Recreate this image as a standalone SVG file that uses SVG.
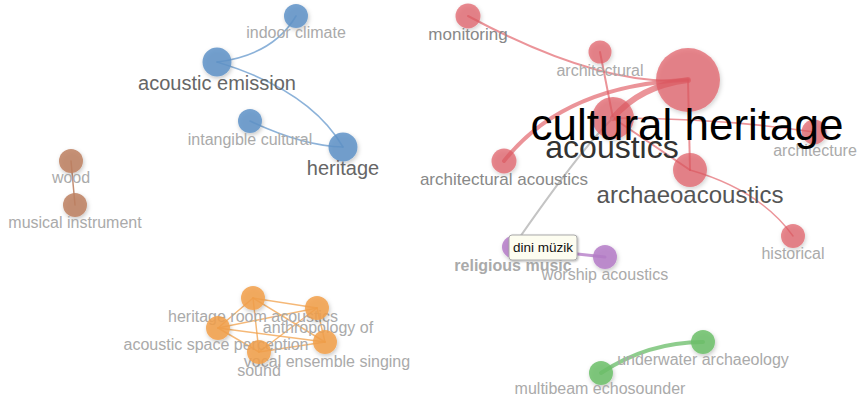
<svg xmlns="http://www.w3.org/2000/svg" width="863" height="404" viewBox="0 0 863 404">
<defs>
<filter id="sh" x="-50%" y="-50%" width="200%" height="200%">
<feDropShadow dx="1" dy="2" stdDeviation="2" flood-color="#000" flood-opacity="0.25"/>
</filter>
<filter id="tsh" x="-20%" y="-30%" width="140%" height="160%">
<feDropShadow dx="1" dy="1" stdDeviation="1.2" flood-color="#000" flood-opacity="0.3"/>
</filter>
</defs>
<style>
text{font-family:"Liberation Sans",Arial,sans-serif;text-anchor:middle}
.e{fill:none;stroke-linecap:round}
.eb{stroke:#6f9fd0;stroke-opacity:.8;stroke-width:1.6}
.er{stroke:#e05a62;stroke-opacity:.65}
.eo{stroke:#f2a04a;stroke-opacity:.75;stroke-width:1.5}
.eg{stroke:#72c070;stroke-opacity:.8;stroke-width:4}
.ebr{stroke:#bb7a5a;stroke-opacity:.85;stroke-width:1.5}
.ep{stroke:#b57dc8;stroke-opacity:.8;stroke-width:3}
.egr{stroke:#c4c4c4;stroke-width:2}
.n{filter:url(#sh)}
.b{fill:#5f93c8;fill-opacity:.85}
.r{fill:#e05a62;fill-opacity:.7}
.p{fill:#b57dc8;fill-opacity:.85}
.o{fill:#f2a04a;fill-opacity:.85}
.g{fill:#6cbf6a;fill-opacity:.85}
.br{fill:#bd8060;fill-opacity:.85}
.s{font-size:16px;fill:#aaa}
.m{font-size:17px;fill:#888}
</style>
<g id="connectors">
<path class="e eb" d="M217,62 Q273,55 296,16"/>
<path class="e eb" d="M217,62 Q310,90 343,147"/>
<path class="e eb" d="M250,121 Q303,146 343,147"/>
<path class="e ebr" d="M71,161 L75,205"/>
<path class="e er" stroke-width="2" d="M468,16 Q602,88 688,80"/>
<path class="e er" stroke-width="2" d="M600,52 L613,118"/>
<path class="e er" stroke-width="4" d="M504,161 Q564,85 688,80"/>
<path class="e er" stroke-width="6" d="M613,118 Q640,86 688,80"/>
<path class="e er" stroke-width="2" d="M688,80 L690,170"/>
<path class="e er" stroke-width="2" d="M613,118 L690,170"/>
<path class="e er" stroke-width="1.6" d="M613,118 Q720,118 814,132"/>
<path class="e er" stroke-width="1.5" d="M690,170 Q760,190 793,236"/>
<path class="e egr" d="M513,247 Q580,150 613,118"/>
<path class="e ep" d="M513,247 L605,257"/>
<path class="e eo" d="M253,298 L317,308"/>
<path class="e eo" d="M253,298 L218,328"/>
<path class="e eo" d="M253,298 L325,342"/>
<path class="e eo" d="M253,298 L259,352"/>
<path class="e eo" d="M317,308 L218,328"/>
<path class="e eo" d="M317,308 L325,342"/>
<path class="e eo" d="M317,308 L259,352"/>
<path class="e eo" d="M218,328 L325,342"/>
<path class="e eo" d="M218,328 L259,352"/>
<path class="e eo" d="M259,352 L325,342"/>
<path class="e eg" d="M601,373 Q648,342 703,342"/>
</g>
<g id="n-indoor-climate"><circle class="n b" cx="296" cy="16" r="12"/><text class="s" x="296" y="38">indoor climate</text></g>
<g id="n-acoustic-emission"><circle class="n b" cx="217" cy="62" r="14.5"/><text x="217" y="90" font-size="20" fill="#666">acoustic emission</text></g>
<g id="n-intangible-cultural"><circle class="n b" cx="250" cy="121" r="12"/><text class="s" x="250" y="145">intangible cultural</text></g>
<g id="n-heritage"><circle class="n b" cx="343" cy="147" r="14.5"/><text x="343" y="175" font-size="20" fill="#666">heritage</text></g>
<g id="n-wood"><circle class="n br" cx="71" cy="161" r="12"/><text class="s" x="71" y="183">wood</text></g>
<g id="n-musical-instrument"><circle class="n br" cx="75" cy="205" r="12"/><text class="s" x="75" y="228">musical instrument</text></g>
<g id="n-monitoring"><circle class="n r" cx="468" cy="16" r="12.5"/><text class="m" x="468" y="40" fill="#888">monitoring</text></g>
<g id="n-architectural"><circle class="n r" cx="600" cy="52" r="11.5"/><text class="s" x="600" y="76">architectural</text></g>
<g id="n-architecture"><circle class="n r" cx="814" cy="132" r="12.5"/><text class="s" x="815" y="156">architecture</text></g>
<g id="n-architectural-acoustics"><circle class="n r" cx="504" cy="161" r="12.5"/><text class="m" x="504" y="185">architectural acoustics</text></g>
<g id="n-historical"><circle class="n r" cx="793" cy="236" r="12"/><text class="s" x="793" y="259">historical</text></g>
<g id="n-archaeoacoustics"><circle class="n r" cx="690" cy="170" r="17"/><text x="690" y="203" font-size="24" fill="#555">archaeoacoustics</text></g>
<g id="n-acoustics"><circle class="n r" cx="613" cy="118" r="21"/><text x="612" y="158" font-size="32" fill="#333">acoustics</text></g>
<g id="n-cultural-heritage"><circle class="n r" cx="688" cy="80" r="32"/><text x="687" y="140" font-size="44" fill="#000">cultural heritage</text></g>
<g id="n-worship-acoustics"><circle class="n p" cx="605" cy="257" r="12"/><text class="s" x="605" y="280">worship acoustics</text></g>
<g id="n-religious-music"><circle class="n p" cx="513" cy="247" r="11"/><text x="513" y="271" font-size="16" font-weight="bold" fill="#aaa">religious music</text></g>
<g id="n-heritage-room-acoustics"><circle class="n o" cx="253" cy="298" r="12"/><text class="s" x="253" y="322">heritage room acoustics</text></g>
<g id="n-anthropology-of"><circle class="n o" cx="317" cy="308" r="12"/><text class="s" x="318" y="333">anthropology of</text></g>
<g id="n-acoustic-space-perception"><circle class="n o" cx="218" cy="328" r="12"/><text class="s" x="216" y="350">acoustic space perception</text></g>
<g id="n-vocal-ensemble-singing"><circle class="n o" cx="325" cy="342" r="12"/><text class="s" x="327" y="367">vocal ensemble singing</text></g>
<g id="n-sound"><circle class="n o" cx="259" cy="352" r="12"/><text class="s" x="259" y="376">sound</text></g>
<g id="n-underwater-archaeology"><circle class="n g" cx="703" cy="342" r="12"/><text class="s" x="703" y="365">underwater archaeology</text></g>
<g id="n-multibeam-echosounder"><circle class="n g" cx="601" cy="373" r="12"/><text class="s" x="600" y="394">multibeam echosounder</text></g>
<g id="tooltip"><rect x="509" y="235" width="68" height="25" rx="3" fill="#fdfdf0" stroke="#aaa" stroke-width="1" filter="url(#tsh)"/><text x="543" y="252" font-size="13.5" fill="#111">dini müzik</text></g>
</svg>
